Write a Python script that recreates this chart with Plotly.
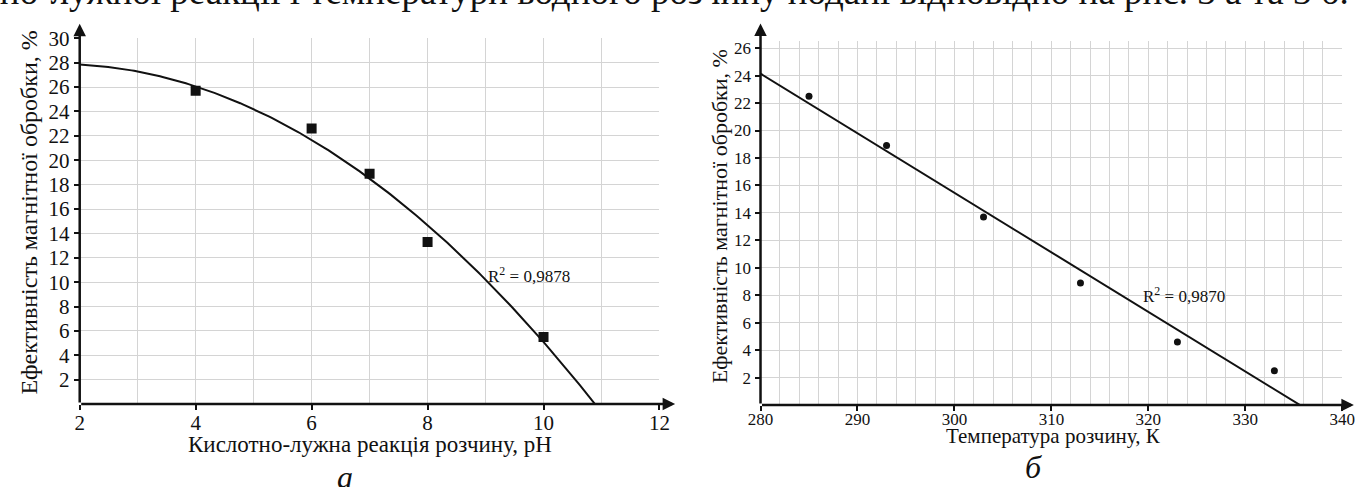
import numpy as np
import plotly.graph_objects as go

# Panel (a): efficiency vs pH
ph = [4, 6, 7, 8, 10]
eff_ph = [25.7, 22.6, 18.9, 13.3, 5.5]
r2_ph = "0,9878"

# Panel (б): efficiency vs solution temperature
temp_k = [285, 293, 303, 313, 323, 333]
eff_t = [22.5, 18.9, 13.7, 8.9, 4.6, 2.5]
r2_t = "0,9870"

left_yticks = list(range(2, 31, 2))
left_xticks = list(range(2, 13, 2))
right_yticks = list(range(2, 27, 2))
right_xticks = list(range(280, 341, 10))

FONT = "Liberation Serif"
INK = "#111111"
GRID = "#d4d4d4"

W, H = 1368, 487

# Trend curves fitted to the measured points
p2 = np.polyfit(ph, eff_ph, 2)
root_ph = max(r.real for r in np.roots(p2) if abs(r.imag) < 1e-9)
xc = np.linspace(2, root_ph, 200)
yc = np.polyval(p2, xc)

p1 = np.polyfit(temp_k, eff_t, 1)
root_t = -p1[1] / p1[0]
xl = np.array([280, root_t])
yl = np.polyval(p1, xl)

fig = go.Figure()
fig.add_trace(go.Scatter(x=xc, y=yc, mode="lines", line=dict(color=INK, width=2),
                         xaxis="x", yaxis="y", hoverinfo="skip"))
fig.add_trace(go.Scatter(x=ph, y=eff_ph, mode="markers",
                         marker=dict(symbol="square", size=10, color=INK),
                         xaxis="x", yaxis="y"))
fig.add_trace(go.Scatter(x=xl, y=yl, mode="lines", line=dict(color=INK, width=2),
                         xaxis="x2", yaxis="y2", hoverinfo="skip"))
fig.add_trace(go.Scatter(x=temp_k, y=eff_t, mode="markers",
                         marker=dict(symbol="circle", size=7, color=INK),
                         xaxis="x2", yaxis="y2"))


def px_x(p):
    return p / W


def px_y(p):
    return 1 - p / H


def axis_style(size, standoff=0):
    return dict(showline=False, zeroline=False, gridcolor=GRID, gridwidth=1,
                ticks="outside", tickcolor=INK, tickwidth=2, ticklen=5,
                ticklabelstandoff=standoff,
                tickfont=dict(family=FONT, size=size, color=INK))


fig.update_layout(
    width=W, height=H,
    margin=dict(l=0, r=0, t=0, b=0),
    paper_bgcolor="white", plot_bgcolor="white",
    showlegend=False,
    font=dict(family=FONT, color=INK),
    xaxis=dict(domain=[px_x(68), px_x(659)], range=[2, 12], anchor="y",
               tickvals=left_xticks,
               minor=dict(dtick=1, tick0=0, showgrid=True, gridcolor=GRID, ticks=""),
               **axis_style(21, -5)),
    yaxis=dict(domain=[px_y(402), px_y(27)], range=[0, 30], anchor="x",
               tickvals=left_yticks, **axis_style(21)),
    xaxis2=dict(domain=[px_x(762), px_x(1355)], range=[280, 340], anchor="y2",
                tickvals=right_xticks,
                minor=dict(dtick=2, tick0=280, showgrid=True, gridcolor=GRID, ticks=""),
                **axis_style(17, -6)),
    yaxis2=dict(domain=[px_y(403), px_y(30)], range=[0, 26.5], anchor="x2",
                tickvals=right_yticks, **axis_style(17)),
)

# Axis lines with arrowheads
arrows = [
    ("x", "y", 2, 0, 12.27, 0),
    ("x", "y", 2, 0, 2, 31.2),
    ("x2", "y2", 280, 0, 341.2, 0),
    ("x2", "y2", 280, 0, 280, 27.8),
]
for xr, yr, x0, y0, x1, y1 in arrows:
    fig.add_annotation(x=x1, y=y1, ax=x0, ay=y0, xref=xr, yref=yr, axref=xr, ayref=yr,
                       text="", showarrow=True, arrowhead=2, arrowsize=1,
                       arrowwidth=2.5, arrowcolor=INK)


def label(text, x, y, size, angle=0, xanchor="center", yanchor="middle"):
    fig.add_annotation(x=px_x(x), y=px_y(y), xref="paper", yref="paper",
                       xanchor=xanchor, yanchor=yanchor, textangle=angle,
                       text=text, showarrow=False,
                       font=dict(family=FONT, size=size, color=INK))


# Axis titles
label("Кислотно-лужна реакція розчину, рН", 364, 443, 23)
label("Ефективність магнітної обробки, %", 16, 206, 24, angle=-90)
label("Температура розчину, К", 1061, 435, 21)
label("Ефективність магнітної обробки, %", 721, 209, 22, angle=-90)

# R² labels
fig.add_annotation(x=9.0, y=10.56, xref="x", yref="y", xanchor="left", yanchor="middle",
                   text="R<sup>2</sup> = " + r2_ph, showarrow=False,
                   font=dict(family=FONT, size=17, color=INK))
fig.add_annotation(x=319.2, y=8.03, xref="x2", yref="y2", xanchor="left", yanchor="middle",
                   text="R<sup>2</sup> = " + r2_t, showarrow=False,
                   font=dict(family=FONT, size=17, color=INK))

# Panel letters
label("<i>а</i>", 338, 477, 32)
label("<i>б</i>", 1040, 467, 32)

# Running text line above the figures
label("кислотно-лужної реакції і температури водного розчину подані відповідно на рис. 3 а та 3 б.",
      1364, -21, 37, xanchor="right")

fig.write_html("out.html")
